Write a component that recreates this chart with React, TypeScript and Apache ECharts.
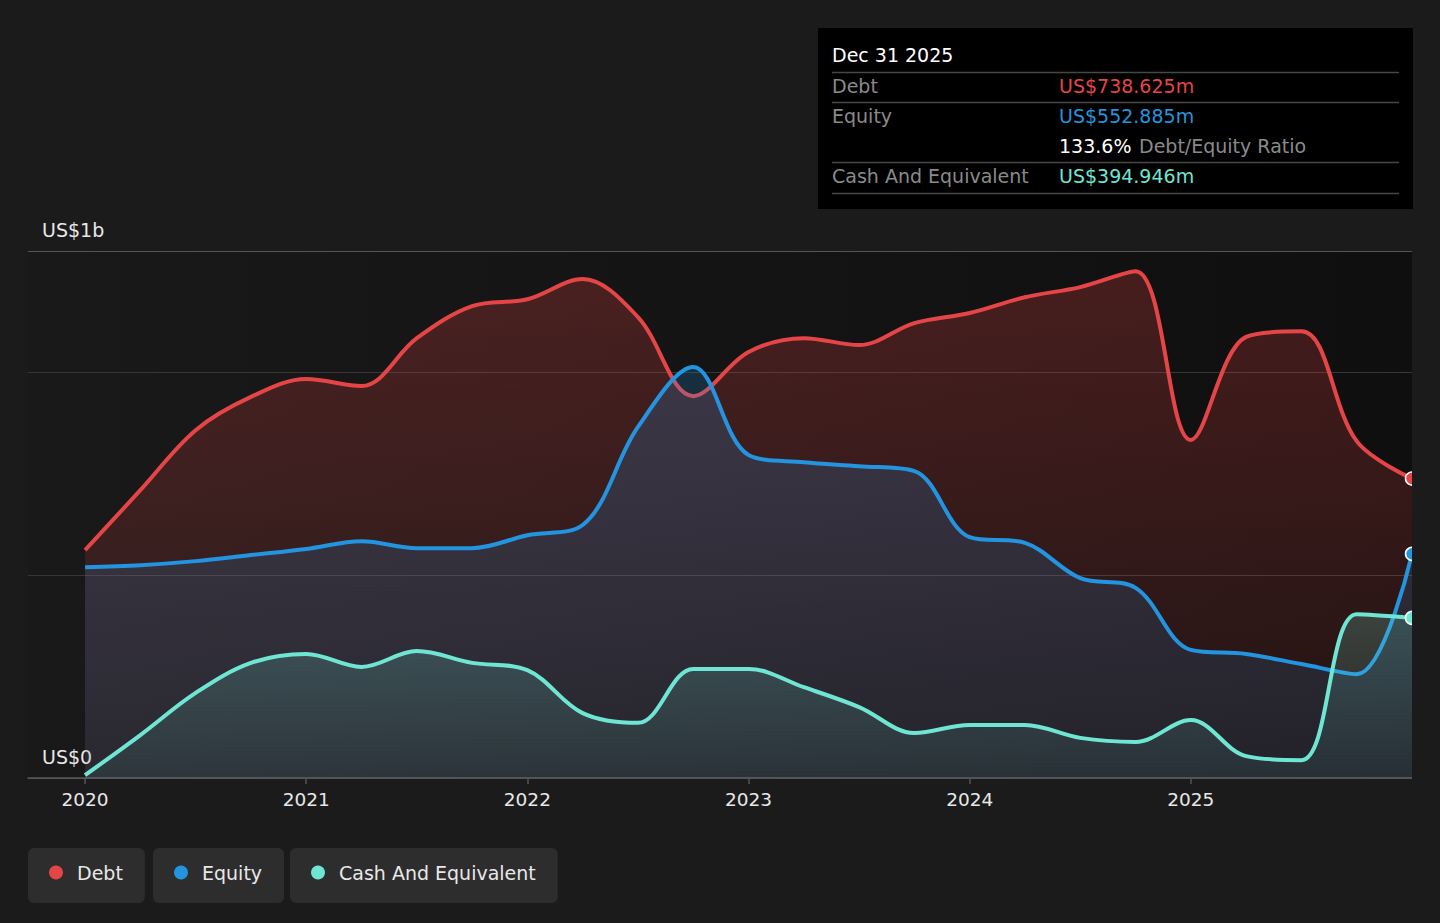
import { useEffect, useRef } from 'react';
import * as echarts from 'echarts';

const quarters = [
  2020, 2020.25, 2020.5, 2020.75,
  2021, 2021.25, 2021.5, 2021.75,
  2022, 2022.25, 2022.5, 2022.75,
  2023, 2023.25, 2023.5, 2023.75,
  2024, 2024.25, 2024.5, 2024.75,
  2025, 2025.25, 2025.5, 2025.75,
  2026,
];

// values in US$ millions
const debt = [
  562, 710, 858, 940,
  984, 967, 1085, 1164,
  1181, 1231, 1137, 942,
  1051, 1085, 1068, 1122,
  1147, 1186, 1211, 1250,
  834, 1088, 1102, 831,
  738.625,
];
const equity = [
  520, 525, 535, 550,
  565, 584, 567, 567,
  599, 624, 866, 1014,
  797, 779, 769, 757,
  594, 580, 493, 469,
  316, 306, 281, 256,
  552.885,
];
const cash = [
  7, 106, 210, 284,
  306, 274, 313, 284,
  266, 160, 136, 269,
  269, 224, 175, 111,
  131, 131, 99, 89,
  143, 54, 44, 404,
  394.946,
];

const yearTicks = [2020, 2021, 2022, 2023, 2024, 2025];
const yLabels = ['US$1b', 'US$0'];
const seriesNames = ['Debt', 'Equity', 'Cash And Equivalent'];
const tooltipDate = 'Dec 31 2025';
const debtEquityRatio = '133.6%';

const FONT = "'DejaVu Sans', sans-serif";
const RED = '#e64547';
const BLUE = '#2394df';
const TEAL = '#6fe6d4';
const BG = '#1b1b1b';
const FS = 19;

function toPairs(vals: number[], color: string) {
  return vals.map((v, i) => {
    if (i === vals.length - 1) {
      return {
        value: [quarters[i], v],
        symbol: 'circle',
        symbolSize: 13,
        itemStyle: { color, borderColor: '#ffffff', borderWidth: 1.5 },
      };
    }
    return { value: [quarters[i], v], symbol: 'none' };
  });
}

function grad(rgb: string, a0: number, a1: number) {
  return new echarts.graphic.LinearGradient(0, 0, 0, 1, [
    { offset: 0, color: `rgba(${rgb},${a0})` },
    { offset: 1, color: `rgba(${rgb},${a1})` },
  ]);
}

function fmtMoney(v: number) {
  return 'US$' + v.toFixed(3) + 'm';
}

export default function App() {
  const ref = useRef<HTMLDivElement>(null);

  useEffect(() => {
    if (!ref.current) return;
    document.body.style.margin = '0';
    document.body.style.background = BG;
    const chart = echarts.init(ref.current, undefined, { renderer: 'svg' });

    const legendCommon = {
      orient: 'horizontal',
      top: 848,
      icon: 'circle',
      itemWidth: 14,
      itemHeight: 14,
      backgroundColor: '#2d2d2d',
      borderRadius: 6,
      padding: [15, 22, 21, 21],
      selectedMode: false,
      textStyle: {
        color: '#e8e8e8',
        fontSize: FS,
        fontFamily: FONT,
        lineHeight: 19,
        padding: [0, 0, 0, 9],
      },
    };

    const lastDebt = debt[debt.length - 1];
    const lastEquity = equity[equity.length - 1];
    const lastCash = cash[cash.length - 1];

    const textEl = (x: number, y: number, text: string, fill: string) => ({
      type: 'text',
      x,
      y,
      style: {
        text,
        fill,
        font: `${FS}px ${FONT}`,
        textVerticalAlign: 'middle',
        verticalAlign: 'middle',
      },
    });

    const lineEl = (y: number) => ({
      type: 'line',
      shape: { x1: 832, y1: y, x2: 1399, y2: y },
      style: { stroke: '#474747', lineWidth: 1.5 },
    });

    const seriesCommon = {
      type: 'line',
      smooth: 0.35,
      showSymbol: true,
    };

    chart.setOption({
      animation: false,
      backgroundColor: BG,
      textStyle: { fontFamily: FONT },
      grid: {
        left: 28,
        right: 28,
        top: 251,
        bottom: 145,
        show: true,
        borderWidth: 0,
        backgroundColor: new echarts.graphic.LinearGradient(0, 0, 1, 0, [
          { offset: 0, color: '#191919' },
          { offset: 1, color: '#0f0f0f' },
        ]),
      },
      xAxis: {
        type: 'value',
        min: 2019.742,
        max: 2026,
        axisLine: { show: true, lineStyle: { color: '#555555', width: 1.5 } },
        axisTick: {
          show: true,
          customValues: yearTicks,
          length: 6,
          lineStyle: { color: '#555555', width: 1.5 },
        },
        axisLabel: {
          customValues: yearTicks,
          formatter: (v: number) => String(Math.round(v)),
          color: '#e8e8e8',
          fontSize: 18.5,
          fontFamily: FONT,
          margin: 12,
        },
        splitLine: { show: false },
      },
      yAxis: {
        type: 'value',
        min: 0,
        max: 1300,
        interval: 500,
        axisLabel: { show: false },
        axisLine: { show: false },
        axisTick: { show: false },
        splitLine: {
          show: true,
          lineStyle: { color: ['#555555', '#363636', '#363636', '#555555'], width: 1.2 },
        },
      },
      legend: [
        { ...legendCommon, left: 28, data: [seriesNames[0]] },
        { ...legendCommon, left: 153, data: [seriesNames[1]] },
        { ...legendCommon, left: 290, data: [seriesNames[2]] },
      ],
      series: [
        {
          ...seriesCommon,
          name: seriesNames[0],
          data: toPairs(debt, RED),
          itemStyle: { color: RED },
          lineStyle: { color: RED, width: 4 },
          areaStyle: { color: grad('230,65,65', 0.36, 0.12) },
          z: 2,
        },
        {
          ...seriesCommon,
          name: seriesNames[1],
          data: toPairs(equity, BLUE),
          itemStyle: { color: BLUE },
          lineStyle: { color: BLUE, width: 4 },
          areaStyle: { color: grad('35,148,223', 0.3, 0.15) },
          z: 3,
        },
        {
          ...seriesCommon,
          name: seriesNames[2],
          data: toPairs(cash, TEAL),
          itemStyle: { color: TEAL },
          lineStyle: { color: TEAL, width: 4 },
          areaStyle: { color: grad('111,230,212', 0.3, 0.1) },
          z: 4,
        },
      ],
      graphic: [
        {
          type: 'rect',
          z: 100,
          shape: { x: 1412, y: 240, width: 28, height: 560 },
          style: { fill: BG },
        },
        textEl(42, 230, yLabels[0], '#e8e8e8'),
        textEl(42, 757, yLabels[1], '#e8e8e8'),
        {
          type: 'rect',
          shape: { x: 818, y: 28, width: 595, height: 181 },
          style: { fill: '#000000' },
        },
        textEl(832, 55, tooltipDate, '#ffffff'),
        lineEl(72.5),
        textEl(832, 86, seriesNames[0], '#8a8a8a'),
        textEl(1059, 86, fmtMoney(lastDebt), RED),
        lineEl(102.5),
        textEl(832, 116, seriesNames[1], '#8a8a8a'),
        textEl(1059, 116, fmtMoney(lastEquity), BLUE),
        textEl(1059, 146, debtEquityRatio, '#ffffff'),
        textEl(1139, 146, 'Debt/Equity Ratio', '#8a8a8a'),
        lineEl(162.5),
        textEl(832, 176, seriesNames[2], '#8a8a8a'),
        textEl(1059, 176, fmtMoney(lastCash), TEAL),
        lineEl(193.5),
      ],
    });

    return () => {
      chart.dispose();
    };
  }, []);

  return (
    <div
      ref={ref}
      style={{ position: 'fixed', left: 0, top: 0, width: '1440px', height: '923px', background: BG }}
    />
  );
}
